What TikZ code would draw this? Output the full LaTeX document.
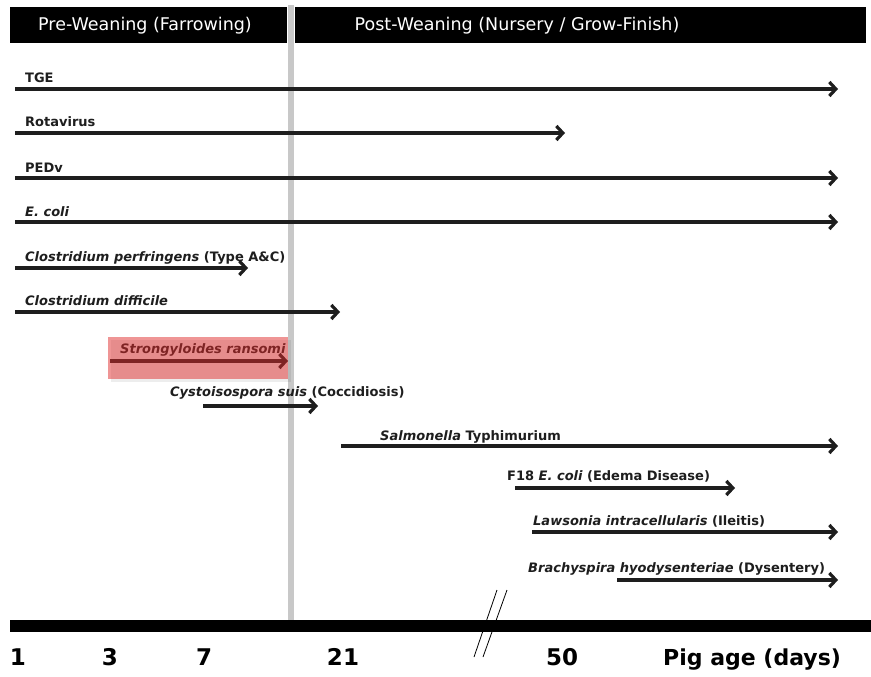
\documentclass[tikz,border=0pt]{standalone}
\usepackage{fontspec}
\setmainfont{DejaVu Sans}
\usetikzlibrary{arrows.meta}
\definecolor{ink}{RGB}{30,30,30}
\definecolor{sep}{RGB}{200,200,200}
\definecolor{hilite}{RGB}{225,45,45}
\begin{document}
\begin{tikzpicture}[x=1pt,y=-1pt,
  arr/.style={line width=3.2pt, draw=ink, -{Straight Barb[length=6.5pt,width=14pt]}},
  lbl/.style={anchor=base west, inner sep=0pt, text=ink, font=\fontsize{13}{15}\selectfont\bfseries},
  head/.style={text=white, inner sep=0pt, font=\fontsize{17.5}{19}\selectfont},
  axlbl/.style={anchor=base, inner sep=0pt, font=\fontsize{23}{26}\selectfont\bfseries}]
\useasboundingbox (0,0) rectangle (871,677);
\fill[white] (0,0) rectangle (871,677);
% header bars
\fill[black] (10,7) rectangle (287,43);
\fill[black] (295,7) rectangle (866,43);
\node[head] (hpre) at (145,26) {Pre-Weaning (Farrowing)};
\node[head] (hpost) at (517,26) {Post-Weaning (Nursery / Grow-Finish)};
% separator
\fill[sep] (288,5) rectangle (294,621);
% coordinates
\coordinate (a1) at (15,89);   \coordinate (b1) at (838,89);
\coordinate (a2) at (15,133);  \coordinate (b2) at (565,133);
\coordinate (a3) at (15,178);  \coordinate (b3) at (838,178);
\coordinate (a4) at (15,222);  \coordinate (b4) at (838,222);
\coordinate (a5) at (15,268);  \coordinate (b5) at (248,268);
\coordinate (a6) at (15,312);  \coordinate (b6) at (340,312);
\coordinate (a7) at (110,361); \coordinate (b7) at (288,361);
\coordinate (a8) at (203,406); \coordinate (b8) at (318,406);
\coordinate (a9) at (341,446); \coordinate (b9) at (838,446);
\coordinate (a10) at (515,488); \coordinate (b10) at (735,488);
\coordinate (a11) at (532,532); \coordinate (b11) at (838,532);
\coordinate (a12) at (617,580); \coordinate (b12) at (838,580);
% labels
\node[lbl] (l1) at (25,83) {TGE};
\node[lbl] (l2) at (25,127) {Rotavirus};
\node[lbl] (l3) at (25,172) {PEDv};
\node[lbl] (l4) at (25,216) {\itshape E. coli};
\node[lbl] (l5) at (25,261) {\itshape Clostridium perfringens \upshape(Type A\&C)};
\node[lbl] (l6) at (25,305) {\itshape Clostridium difficile};
\node[lbl] (l7) at (120,353) {\itshape Strongyloides ransomi};
\node[lbl] (l8) at (170,396) {\itshape Cystoisospora suis \upshape(Coccidiosis)};
\node[lbl] (l9) at (380,440) {\itshape Salmonella \upshape Typhimurium};
\node[lbl] (l10) at (507,480) {F18 \itshape E. coli \upshape(Edema Disease)};
\node[lbl] (l11) at (533,525) {\itshape Lawsonia intracellularis \upshape(Ileitis)};
\node[lbl] (l12) at (528,572) {\itshape Brachyspira hyodysenteriae \upshape(Dysentery)};
% arrows
\foreach \i in {1,...,12} {\draw[arr] (a\i) -- (b\i);}
% highlight box
\fill[black, opacity=0.07] (111,340) rectangle (291,382);
\fill[hilite, opacity=0.5] (108,337) rectangle (288,379);
% axis
\fill[black] (10,620) rectangle (871,632);
\coordinate (s1a) at (474,657); \coordinate (s1b) at (497,590);
\coordinate (s2a) at (483,657); \coordinate (s2b) at (507,590);
\draw[line width=0.8pt] (s1a) -- (s1b);
\draw[line width=0.8pt] (s2a) -- (s2b);
\node[axlbl] (t1) at (18,665) {1};
\node[axlbl] (t3) at (110,665) {3};
\node[axlbl] (t7) at (204,665) {7};
\node[axlbl] (t21) at (343,665) {21};
\node[axlbl] (t50) at (562,665) {50};
\node[axlbl, anchor=base west, font=\fontsize{22}{25}\selectfont\bfseries] (tp) at (663,665) {Pig age (days)};
\end{tikzpicture}
\end{document}
